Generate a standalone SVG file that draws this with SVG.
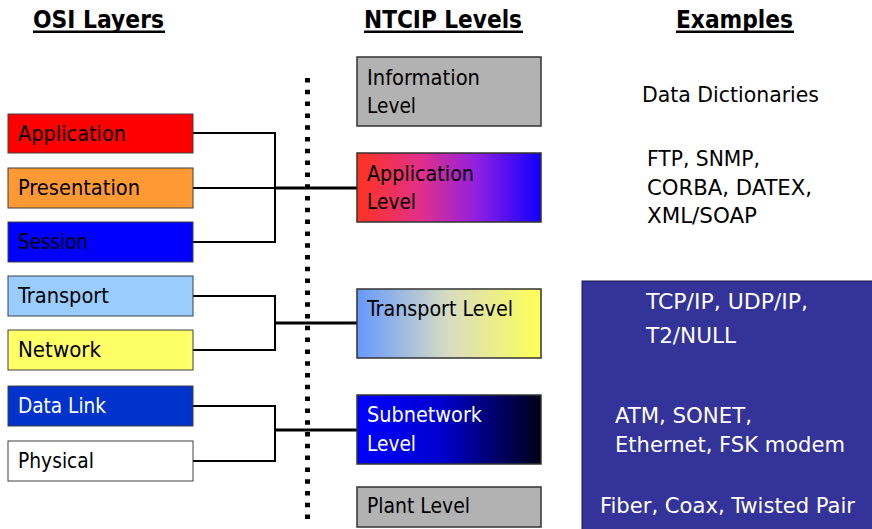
<svg xmlns="http://www.w3.org/2000/svg" width="872" height="529" viewBox="0 0 872 529">
<style>
  text { font-family: "DejaVu Sans Condensed", "DejaVu Sans", Tahoma, sans-serif; font-size: 21.5px; fill: #000; }
  .hdr { font-weight: bold; font-size: 25px; }
  .w { fill: #fff; }
  .osi { stroke: #404040; stroke-width: 1; }
  .nt { stroke: #333; stroke-width: 1.5; }
  .br { fill: none; stroke: #000; stroke-width: 2; }
  .main { fill: none; stroke: #000; stroke-width: 3; }
</style>
<defs>
  <linearGradient id="gApp" x1="0" y1="0" x2="1" y2="0">
    <stop offset="0" stop-color="#ff3320"/>
    <stop offset="0.35" stop-color="#e0308a"/>
    <stop offset="0.65" stop-color="#9020e0"/>
    <stop offset="1" stop-color="#1000ff"/>
  </linearGradient>
  <linearGradient id="gTr" x1="0" y1="0" x2="1" y2="0">
    <stop offset="0" stop-color="#6699ff"/>
    <stop offset="0.5" stop-color="#d8dcc0"/>
    <stop offset="1" stop-color="#ffff55"/>
  </linearGradient>
  <linearGradient id="gSub" x1="0" y1="0" x2="1" y2="0">
    <stop offset="0" stop-color="#0000ff"/>
    <stop offset="0.45" stop-color="#0000d0"/>
    <stop offset="1" stop-color="#000018"/>
  </linearGradient>
</defs>
<rect width="872" height="529" fill="#fff"/>

<g id="headers">
  <text class="hdr" x="33" y="28" textLength="131" lengthAdjust="spacingAndGlyphs">OSI Layers</text>
  <rect x="33" y="30.5" width="132" height="2.5" fill="#000"/>
  <text class="hdr" x="364" y="28" textLength="158" lengthAdjust="spacingAndGlyphs">NTCIP Levels</text>
  <rect x="364" y="30.5" width="159" height="2.5" fill="#000"/>
  <text class="hdr" x="676" y="28" textLength="117" lengthAdjust="spacingAndGlyphs">Examples</text>
  <rect x="676" y="30.5" width="118" height="2.5" fill="#000"/>
</g>

<g id="divider">
  <line x1="307.5" y1="78" x2="307.5" y2="524" stroke="#000" stroke-width="5" stroke-dasharray="4.5 7.3"/>
</g>

<g id="connectors">
  <polyline class="br" points="193,133 275,133 275,242 193,242"/>
  <line class="br" x1="193" y1="188" x2="275" y2="188"/>
  <line class="main" x1="275" y1="188" x2="357" y2="188"/>
  <polyline class="br" points="193,296 275,296 275,350 193,350"/>
  <line class="main" x1="275" y1="323" x2="357" y2="323"/>
  <polyline class="br" points="193,406 275,406 275,461 193,461"/>
  <line class="main" x1="275" y1="430" x2="357" y2="430"/>
</g>

<g id="osi-application">
  <rect class="osi" x="8" y="114" width="185" height="39" fill="#ff0000"/>
  <text x="18" y="141" textLength="108" lengthAdjust="spacingAndGlyphs">Application</text>
</g>
<g id="osi-presentation">
  <rect class="osi" x="8" y="168" width="185" height="40" fill="#ff9933"/>
  <text x="18" y="195" textLength="122" lengthAdjust="spacingAndGlyphs">Presentation</text>
</g>
<g id="osi-session">
  <rect class="osi" x="8" y="222" width="185" height="40" fill="#0000ff"/>
  <text x="18" y="249" textLength="70" lengthAdjust="spacingAndGlyphs">Session</text>
</g>
<g id="osi-transport">
  <rect class="osi" x="8" y="276" width="185" height="40" fill="#99ccff"/>
  <text x="18" y="303" textLength="91" lengthAdjust="spacingAndGlyphs">Transport</text>
</g>
<g id="osi-network">
  <rect class="osi" x="8" y="330" width="185" height="40" fill="#ffff66"/>
  <text x="18" y="357" textLength="83" lengthAdjust="spacingAndGlyphs">Network</text>
</g>
<g id="osi-datalink">
  <rect class="osi" x="8" y="386" width="185" height="40" fill="#0033cc"/>
  <text class="w" x="18" y="413" textLength="88" lengthAdjust="spacingAndGlyphs">Data Link</text>
</g>
<g id="osi-physical">
  <rect class="osi" x="8" y="441" width="185" height="40" fill="#ffffff"/>
  <text x="18" y="468" textLength="76" lengthAdjust="spacingAndGlyphs">Physical</text>
</g>

<g id="ntcip-information">
  <rect class="nt" x="357" y="57" width="184" height="69" fill="#b2b2b2"/>
  <text x="367" y="85" textLength="113" lengthAdjust="spacingAndGlyphs">Information</text>
  <text x="367" y="113" textLength="49" lengthAdjust="spacingAndGlyphs">Level</text>
</g>
<g id="ntcip-application">
  <rect class="nt" x="357" y="153" width="184" height="69" fill="url(#gApp)"/>
  <text x="367" y="181" textLength="107" lengthAdjust="spacingAndGlyphs">Application</text>
  <text x="367" y="209" textLength="49" lengthAdjust="spacingAndGlyphs">Level</text>
</g>
<g id="ntcip-transport">
  <rect class="nt" x="357" y="289" width="184" height="69" fill="url(#gTr)"/>
  <text x="367" y="316" textLength="146" lengthAdjust="spacingAndGlyphs">Transport Level</text>
</g>
<g id="ntcip-subnetwork">
  <rect class="nt" x="357" y="395" width="184" height="69" fill="url(#gSub)"/>
  <text class="w" x="367" y="422" textLength="115" lengthAdjust="spacingAndGlyphs">Subnetwork</text>
  <text class="w" x="367" y="451" textLength="49" lengthAdjust="spacingAndGlyphs">Level</text>
</g>
<g id="ntcip-plant">
  <rect class="nt" x="357" y="487" width="184" height="40" fill="#b2b2b2"/>
  <text x="367" y="513" textLength="103" lengthAdjust="spacingAndGlyphs">Plant Level</text>
</g>

<g id="examples-upper">
  <text x="642" y="102" textLength="177" lengthAdjust="spacingAndGlyphs">Data Dictionaries</text>
  <text x="647" y="166" textLength="113" lengthAdjust="spacingAndGlyphs">FTP, SNMP,</text>
  <text x="647" y="195" textLength="165" lengthAdjust="spacingAndGlyphs">CORBA, DATEX,</text>
  <text x="647" y="223" textLength="110" lengthAdjust="spacingAndGlyphs">XML/SOAP</text>
</g>
<g id="examples-panel">
  <rect x="582" y="281" width="295" height="253" fill="#333399" stroke="#1a1a4d" stroke-width="1"/>
  <text class="w" x="646" y="309" textLength="162" lengthAdjust="spacingAndGlyphs">TCP/IP, UDP/IP,</text>
  <text class="w" x="646" y="343" textLength="90" lengthAdjust="spacingAndGlyphs">T2/NULL</text>
  <text class="w" x="615" y="423" textLength="137" lengthAdjust="spacingAndGlyphs">ATM, SONET,</text>
  <text class="w" x="615" y="452" textLength="230" lengthAdjust="spacingAndGlyphs">Ethernet, FSK modem</text>
  <text class="w" x="600" y="513" textLength="255" lengthAdjust="spacingAndGlyphs">Fiber, Coax, Twisted Pair</text>
</g>
</svg>
